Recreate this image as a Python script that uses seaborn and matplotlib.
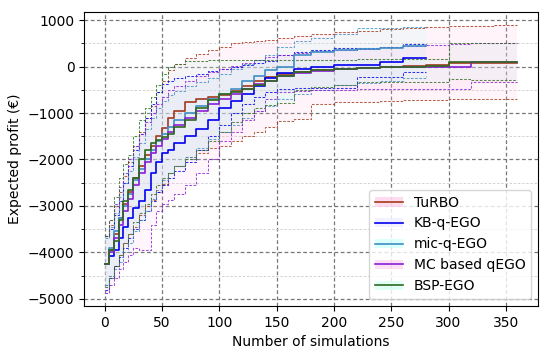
import numpy as np
import pandas as pd
import matplotlib
matplotlib.use("Agg")
import matplotlib.pyplot as plt
import seaborn as sns
from matplotlib.ticker import MultipleLocator, NullLocator
from matplotlib.patches import Patch
from matplotlib.lines import Line2D

# number of simulations (step points)
sims = [0, 4, 8, 12, 16, 20, 25, 30, 35, 40, 45, 50, 55, 60, 70, 80, 90, 100, 110,
        120, 130, 140, 150, 165, 180, 200, 220, 240, 260, 280, 300, 320, 340, 360]
sims_short = sims[:30]  # runs that stop at 280 simulations

# TuRBO
turbo_mean = [-4250, -3950, -3600, -3250, -2950, -2700, -2400, -2150, -1900, -1700, -1500, -1330,
              -1100, -950, -770, -700, -650, -620, -520, -420, -320, -230, -170, -110, -70, -45,
              -30, -10, 10, 30, 80, 85, 85, 85]
turbo_up = [-3650, -3400, -3000, -2700, -2350, -2050, -1700, -1400, -1100, -850, -550, -300,
            -80, 50, 180, 280, 360, 430, 500, 520, 540, 570, 610, 660, 700, 740, 760, 800,
            840, 860, 870, 880, 890, 890]
turbo_low = [-4700, -4500, -4300, -4050, -3800, -3600, -3450, -3200, -3000, -2880, -2700, -2520,
             -2300, -2150, -1950, -1850, -1760, -1720, -1600, -1500, -1400, -1300, -1180, -1130,
             -800, -770, -760, -740, -720, -710, -700, -700, -700, -700]

# KB-q-EGO
kb_mean = [-4250, -4080, -3950, -3700, -3450, -3250, -3050, -2900, -2650, -2300, -2050, -1850,
           -1800, -1650, -1500, -1340, -1150, -900, -750, -600, -420, -250, -140, -50, -10, 30,
           40, 100, 180, 180]
kb_up = [-3650, -3500, -3200, -2900, -2500, -2150, -1800, -1450, -1100, -800, -550, -380, -300,
         -250, -200, -150, -100, -50, 0, 40, 80, 130, 250, 320, 360, 390, 400, 420, 480, 480]
kb_low = [-4800, -4550, -4300, -4100, -3900, -3700, -3500, -3300, -3100, -2900, -2700, -2550,
          -2400, -2250, -2050, -1800, -1500, -1250, -1000, -800, -650, -550, -480, -470, -460,
          -460, -225, -225, -120, -120]

# mic-q-EGO
mic_mean = [-4250, -3900, -3550, -3250, -3000, -2750, -2450, -2200, -2000, -1800, -1600, -1450,
            -1300, -1150, -1000, -850, -700, -580, -480, -320, -200, -80, -10, 250, 320, 350,
            380, 400, 440, 460]
mic_up = [-3700, -3450, -3150, -2800, -2500, -2250, -1950, -1650, -1350, -1100, -900, -750, -620,
          -520, -420, -330, -250, -150, -50, 50, 150, 250, 420, 550, 620, 700, 820, 840, 850, 850]
mic_low = [-4700, -4500, -4350, -4200, -4000, -3800, -3550, -3300, -3100, -2850, -2650, -2450,
           -2300, -2150, -1950, -1750, -1550, -1400, -1250, -1100, -950, -850, -700, -600, -500,
           -400, -350, -300, -250, -200]

# MC based qEGO
mc_mean = [-4250, -4000, -3700, -3400, -3100, -2850, -2550, -2300, -2050, -1850, -1700, -1550,
           -1400, -1250, -1100, -950, -800, -700, -600, -480, -380, -300, -200, -130, -90, -50,
           -30, -15, -10, -5, -5, 90, 90, 90]
mc_up = [-3650, -3300, -2950, -2600, -2300, -2000, -1700, -1450, -1200, -1000, -800, -650, -500,
         -420, -300, -200, -120, -60, 20, 80, 140, 200, 250, 300, 340, 360, 380, 420, 440, 460,
         480, 500, 500, 500]
mc_low = [-4880, -4700, -4550, -4350, -4200, -4050, -3900, -3950, -3950, -3400, -3100, -2950,
          -2880, -2750, -2550, -2300, -2000, -1600, -1400, -1150, -950, -700, -550, -520, -500,
          -500, -490, -485, -485, -485, -485, -330, -330, -330]

# BSP-EGO
bsp_mean = [-4250, -3950, -3750, -3300, -2900, -2650, -2400, -2000, -1800, -1650, -1580, -1520,
            -1450, -1300, -1150, -900, -720, -580, -550, -480, -400, -300, -200, -120, -80, -60,
            -40, -20, 0, 10, 100, 100, 100, 100]
bsp_up = [-3650, -3300, -2800, -2400, -2100, -1900, -1500, -1150, -900, -650, -400, -150, 0, 60,
          110, 130, 140, 140, 145, 145, 150, 150, 150, 150, 150, 150, 155, 160, 160, 170, 500,
          505, 505, 505]
bsp_low = [-4750, -4550, -4300, -4050, -3800, -3600, -3350, -3150, -2950, -2750, -2550, -2400,
           -2300, -2150, -2000, -1800, -1600, -1400, -1200, -1000, -900, -820, -780, -500, -450,
           -400, -330, -330, -330, -330, -270, -280, -290, -290]

methods = ["TuRBO", "KB-q-EGO", "mic-q-EGO", "MC based qEGO", "BSP-EGO"]
line_colors = ["#a33a1c", "#0000ee", "#3f8fc4", "#8a1fd6", "#2f6a1f"]
fill_colors = ["#ffb8e0", "#e4e4ff", "#b8fff8", "#ffc0ec", "#c0fff0"]
runs = [
    (sims, turbo_mean, turbo_up, turbo_low),
    (sims_short, kb_mean, kb_up, kb_low),
    (sims_short, mic_mean, mic_up, mic_low),
    (sims, mc_mean, mc_up, mc_low),
    (sims, bsp_mean, bsp_up, bsp_low),
]

fig, ax = plt.subplots(figsize=(5.5, 3.56), dpi=100)
fig.subplots_adjust(left=0.153, right=0.978, top=0.967, bottom=0.141)

for (x, m, up, low), fc in zip(runs, fill_colors):
    ax.fill_between(x, low, up, step="post", color=fc, alpha=0.15, linewidth=0)

for (x, m, up, low), lc in zip(runs, line_colors):
    for b in (up, low):
        sns.lineplot(x=x, y=b, ax=ax, color=lc, linewidth=0.75, dashes=False,
                     drawstyle="steps-post", alpha=0.8).lines[-1].set_dashes((2.5, 1.5))

for (x, m, up, low), lc in zip(runs, line_colors):
    sns.lineplot(x=x, y=m, ax=ax, color=lc, linewidth=1.2, drawstyle="steps-post")

ax.set_xlim(-18, 378)
ax.set_ylim(-5150, 1180)
ax.yaxis.set_major_locator(MultipleLocator(1000))
ax.yaxis.set_minor_locator(MultipleLocator(500))
ax.xaxis.set_major_locator(MultipleLocator(50))
ax.xaxis.set_minor_locator(NullLocator())
ax.grid(which="major", linestyle=(0, (3, 2)), color="#777777", linewidth=0.9)
ax.grid(which="minor", linestyle=(0, (3, 2)), color="#cccccc", linewidth=0.6)
ax.set_axisbelow(True)
ax.set_xlabel("Number of simulations")
ax.set_ylabel("Expected profit (€)")

handles = [(Patch(facecolor=fc, alpha=0.5, edgecolor="none"), Line2D([], [], color=lc, linewidth=1.2))
           for fc, lc in zip(fill_colors, line_colors)]
ax.legend(handles, methods, loc="lower right", fontsize=10)

plt.savefig("out.png", dpi=100)
